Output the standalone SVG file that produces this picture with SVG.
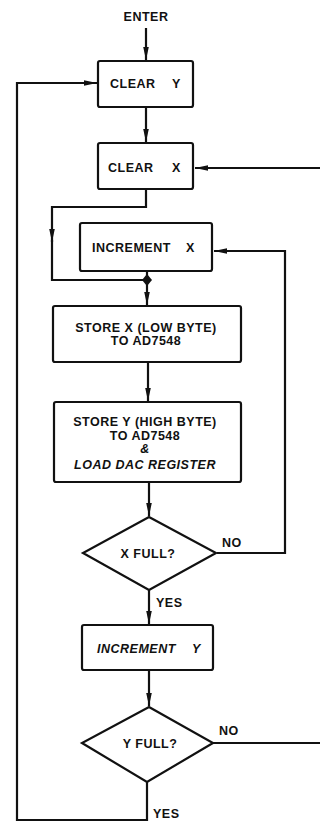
<svg xmlns="http://www.w3.org/2000/svg" width="320" height="823" viewBox="0 0 320 823">
<style>
  .box { fill: #fff; stroke: #111; stroke-width: 2.2; }
  .ln { fill: none; stroke: #111; stroke-width: 2.2; stroke-linejoin: miter; }
  .t { font-family: "Liberation Sans", Arial, sans-serif; font-weight: bold; font-size: 12.5px; letter-spacing: 0.5px; fill: #111; }
  .c { text-anchor: middle; }
  .i { font-style: italic; }
</style>
<defs>
  <marker id="ah" markerUnits="userSpaceOnUse" markerWidth="14" markerHeight="8" refX="13" refY="3" orient="auto">
    <path d="M0,0.2 L13,3 L0,5.8 z" fill="#111"/>
  </marker>
</defs>
<rect width="320" height="823" fill="#fff"/>

<g id="connectors">
  <path class="ln" d="M146,28 V60" marker-end="url(#ah)"/>
  <path class="ln" d="M146,107 V142" marker-end="url(#ah)"/>
  <path class="ln" d="M320,168 H195" marker-end="url(#ah)"/>
  <path class="ln" d="M146,189 V207 H52 V242" marker-end="url(#ah)"/>
  <path class="ln" d="M52,240 V280 H147"/>
  <path class="ln" d="M147,271 V305" marker-end="url(#ah)"/>
  <path class="ln" d="M148,362 V401" marker-end="url(#ah)"/>
  <path class="ln" d="M149,482 V516" marker-end="url(#ah)"/>
  <path class="ln" d="M217,553 H285 V251 H214" marker-end="url(#ah)"/>
  <path class="ln" d="M149,590 V624" marker-end="url(#ah)"/>
  <path class="ln" d="M149,670 V706" marker-end="url(#ah)"/>
  <path class="ln" d="M213,743 H320"/>
  <path class="ln" d="M147,782 V820 H17 V83 H97" marker-end="url(#ah)"/>
  <polygon id="junction" points="147,274 152,280 147,286 142,280" fill="#111"/>
</g>

<g id="enter">
  <text class="t c" x="146" y="21">ENTER</text>
</g>

<g id="clear-y">
  <rect class="box" x="98" y="61" width="95" height="46" rx="2"/>
  <text class="t" y="88"><tspan x="110">CLEAR</tspan><tspan x="172">Y</tspan></text>
</g>

<g id="clear-x">
  <rect class="box" x="98" y="143" width="95" height="46" rx="2"/>
  <text class="t" y="172"><tspan x="108">CLEAR</tspan><tspan x="172">X</tspan></text>
</g>

<g id="increment-x">
  <rect class="box" x="80" y="223" width="132" height="48" rx="2"/>
  <text class="t" y="252"><tspan x="92">INCREMENT</tspan><tspan x="186">X</tspan></text>
</g>

<g id="store-x">
  <rect class="box" x="53" y="306" width="188" height="56" rx="2"/>
  <text class="t c" x="146" y="332">STORE X (LOW BYTE)</text>
  <text class="t c" x="146" y="345">TO AD7548</text>
</g>

<g id="store-y">
  <rect class="box" x="54" y="402" width="187" height="80" rx="2"/>
  <text class="t c" x="145" y="426">STORE Y (HIGH BYTE)</text>
  <text class="t c" x="145" y="440">TO AD7548</text>
  <text class="t c i" x="145" y="453">&amp;</text>
  <text class="t c i" x="145" y="469">LOAD DAC REGISTER</text>
</g>

<g id="x-full">
  <polygon class="box" points="149,517 216,553 149,590 83,553"/>
  <text class="t c" x="148" y="558">X FULL?</text>
  <text class="t" x="222" y="547">NO</text>
  <text class="t" x="156" y="607">YES</text>
</g>

<g id="increment-y">
  <rect class="box" x="82" y="625" width="131" height="45" rx="2"/>
  <text class="t i" y="653"><tspan x="97">INCREMENT</tspan><tspan x="192">Y</tspan></text>
</g>

<g id="y-full">
  <polygon class="box" points="149,707 213,743 147,782 82,743"/>
  <text class="t c" x="150" y="748">Y FULL?</text>
  <text class="t" x="219" y="735">NO</text>
  <text class="t" x="153" y="818">YES</text>
</g>
</svg>
